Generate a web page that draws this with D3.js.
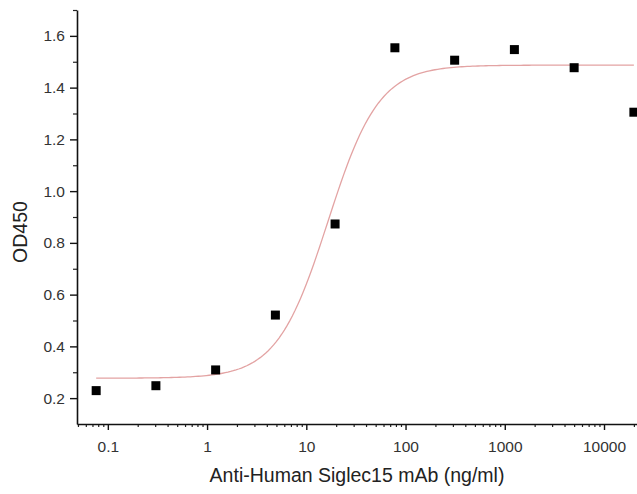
<!DOCTYPE html>
<html>
<head>
<meta charset="utf-8">
<script src="https://cdn.jsdelivr.net/npm/d3@7"></script>
<style>
  body { margin: 0; background: #fff; }
  text { font-family: "Liberation Sans", Arial, sans-serif; }
</style>
</head>
<body>
<div id="container"></div>
<script>
// concentrations (ng/ml), 4-fold dilution series
const conc = [0.0763, 0.305, 1.22, 4.88, 19.5, 78.1, 312.5, 1250, 5000, 20000]
const od450 = [0.229, 0.248, 0.309, 0.521, 0.873, 1.554, 1.506, 1.547, 1.477, 1.305]

// 4-parameter logistic fit shown as the red line
const fitBottom = 0.277
const fitTop = 1.487
const fitEC50 = 16.5
const fitHill = 1.69

const xTicks = [0.1, 1, 10, 100, 1000, 10000]
const xTickLabels = ['0.1', '1', '10', '100', '1000', '10000']
const yTicks = [0.2, 0.4, 0.6, 0.8, 1.0, 1.2, 1.4, 1.6]

const width = 637
const height = 494

const svg = d3.select('#container').append('svg')
  .attr('width', width)
  .attr('height', height)

const x = d3.scaleLog()
  .domain([0.0489, 21500])
  .range([77, 637])

const y = d3.scaleLinear()
  .domain([0.1, 1.7])
  .range([424, 10])

// minor ticks on x (2..9 in each decade)
let xMinor = []
for (let e = -2; e <= 4; e++) {
  for (let m = 2; m <= 9; m++) {
    const v = m * Math.pow(10, e)
    if (v > x.domain()[0] && v < x.domain()[1]) xMinor.push(v)
  }
}
const yMinor = [0.3, 0.5, 0.7, 0.9, 1.1, 1.3, 1.5, 1.7]

svg.append('g')
  .attr('transform', 'translate(0,424)')
  .call(d3.axisBottom(x).tickValues(xMinor).tickSize(3).tickFormat(''))
  .call(g => g.select('.domain').remove())
  .selectAll('line').attr('stroke', '#222').attr('stroke-width', 1.2)

svg.append('g')
  .attr('class', 'xaxis')
  .attr('transform', 'translate(0,424)')
  .call(d3.axisBottom(x).tickValues(xTicks).tickSize(6).tickSizeOuter(0)
    .tickFormat((d, i) => xTickLabels[i]))
  .call(g => g.select('.domain').attr('stroke', '#111').attr('stroke-width', 1.6))
  .call(g => g.selectAll('.tick line').attr('stroke', '#111').attr('stroke-width', 1.4))
  .call(g => g.selectAll('.tick text')
    .attr('dy', '1.2em')
    .attr('fill', '#333')
    .style('font-size', '15.5px'))

svg.append('g')
  .attr('transform', 'translate(77,0)')
  .call(d3.axisLeft(y).tickValues(yMinor).tickSize(4).tickFormat(''))
  .call(g => g.select('.domain').remove())
  .selectAll('line').attr('stroke', '#222').attr('stroke-width', 1.2)

svg.append('g')
  .attr('transform', 'translate(77,0)')
  .call(d3.axisLeft(y).tickValues(yTicks).tickSize(7).tickSizeOuter(0)
    .tickFormat(d3.format('.1f')))
  .call(g => g.select('.domain').attr('stroke', '#111').attr('stroke-width', 1.6))
  .call(g => g.selectAll('.tick line').attr('stroke', '#111').attr('stroke-width', 1.4))
  .call(g => g.selectAll('.tick text')
    .attr('x', -12)
    .attr('fill', '#333')
    .style('font-size', '15.5px'))

// fitted curve
const logistic = c => fitBottom + (fitTop - fitBottom) / (1 + Math.pow(fitEC50 / c, fitHill))
const curveX = d3.range(0, 201).map(i => {
  const lo = Math.log10(conc[0])
  const hi = Math.log10(conc[conc.length - 1])
  return Math.pow(10, lo + (hi - lo) * i / 200)
})

svg.append('path')
  .datum(curveX)
  .attr('fill', 'none')
  .attr('stroke', '#e3a3a3')
  .attr('stroke-width', 1.3)
  .attr('d', d3.line()
    .x(d => x(d))
    .y(d => y(logistic(d))))

// data points
const size = 9
svg.selectAll('rect.pt')
  .data(conc)
  .enter()
  .append('rect')
  .attr('class', 'pt')
  .attr('x', d => x(d) - size / 2)
  .attr('y', (d, i) => y(od450[i]) - size / 2)
  .attr('width', size)
  .attr('height', size)
  .attr('fill', '#000')

// axis titles
svg.append('text')
  .attr('x', 357)
  .attr('y', 482)
  .attr('text-anchor', 'middle')
  .attr('fill', '#222')
  .style('font-size', '19.5px')
  .text('Anti-Human Siglec15 mAb (ng/ml)')

svg.append('text')
  .attr('transform', 'translate(27,232) rotate(-90)')
  .attr('text-anchor', 'middle')
  .attr('fill', '#222')
  .style('font-size', '19.5px')
  .text('OD450')
</script>
</body>
</html>
